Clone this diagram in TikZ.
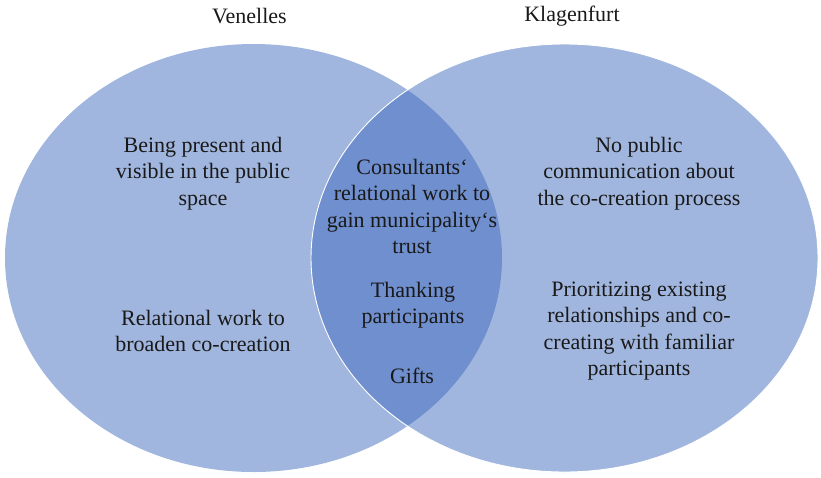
\documentclass[tikz,border=0pt]{standalone}
\usepackage{fontspec}
\setmainfont{Liberation Serif}
\usetikzlibrary{shapes.geometric, positioning}
\definecolor{vennlight}{RGB}{161,182,222}
\definecolor{venndark}{RGB}{111,143,206}
\definecolor{textgray}{RGB}{25,25,25}

\begin{document}
\begin{tikzpicture}[
    x=1pt, y=-1pt,
    every node/.style={font=\fontsize{22}{26.5}\selectfont, text=textgray},
    label/.style={align=center, inner sep=0pt},
    settitle/.style={inner sep=0pt}
]
\useasboundingbox (0,0) rectangle (821,477);

% the two sets
\fill[vennlight] (253.5,258) ellipse [x radius=248.5, y radius=214];
\fill[vennlight] (564.5,258) ellipse [x radius=253.5, y radius=214];
\begin{scope}
    \clip (253.5,258) ellipse [x radius=248.5, y radius=214];
    \fill[venndark] (564.5,258) ellipse [x radius=253.5, y radius=214];
\end{scope}
\draw[white, line width=0.9pt] (564.5,258) ellipse [x radius=253.5, y radius=214];

% set names
\node[settitle] (venelles) at (249.5,16) {Venelles};
\node[settitle] (klagenfurt) at (572,16) {Klagenfurt};

% Venelles only
\node[label] (present) at (203,173.5) {Being present and\\visible in the public\\space};
\node[label] (broaden) at (203,331) {Relational work to\\broaden co-creation};

% Klagenfurt only
\node[label] (nopublic) at (639,173.5) {No public\\communication about\\the co-creation process};
\node[label] (familiar) at (639,331) {Prioritizing existing\\relationships and co-\\creating with familiar\\participants};

% both
\node[label] (trust) at (412,206.5) {Consultants‘\\relational work to\\gain municipality‘s\\trust};
\node[label] (thanking) at (413,305) {Thanking\\participants};
\node[label] (gifts) at (412,376) {Gifts};

\end{tikzpicture}
\end{document}
